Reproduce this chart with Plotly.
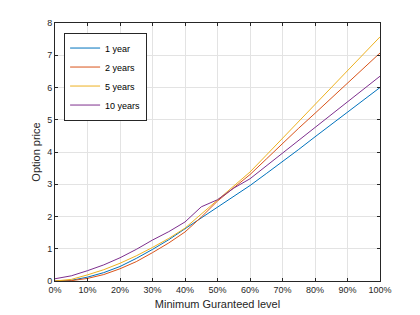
import plotly.graph_objects as go

guarantee_pct = [0, 5, 10, 15, 20, 25, 30, 35, 40, 45, 50, 55, 60, 65, 70, 75, 80, 85, 90, 95, 100]
one_year = [0.00, 0.02, 0.12, 0.26, 0.45, 0.70, 0.98, 1.28, 1.62, 1.96, 2.29, 2.62, 2.96, 3.33, 3.70, 4.08, 4.47, 4.85, 5.23, 5.62, 6.00]
two_years = [0.00, 0.01, 0.08, 0.20, 0.38, 0.60, 0.88, 1.18, 1.52, 1.98, 2.48, 2.90, 3.30, 3.78, 4.27, 4.74, 5.20, 5.67, 6.14, 6.60, 7.07]
five_years = [0.00, 0.05, 0.19, 0.35, 0.55, 0.78, 1.04, 1.32, 1.64, 2.08, 2.52, 2.95, 3.38, 3.90, 4.42, 4.95, 5.47, 6.00, 6.52, 7.05, 7.57]
ten_years = [0.07, 0.16, 0.32, 0.50, 0.72, 0.98, 1.27, 1.53, 1.83, 2.30, 2.52, 2.88, 3.17, 3.57, 3.97, 4.37, 4.76, 5.16, 5.56, 5.95, 6.35]

series_names = ["1 year", "2 years", "5 years", "10 years"]
series_values = [one_year, two_years, five_years, ten_years]
series_colors = ["#0072BD", "#D95319", "#EDB120", "#7E2F8E"]

x_ticks = [0, 10, 20, 30, 40, 50, 60, 70, 80, 90, 100]
x_tick_labels = ["0%", "10%", "20%", "30%", "40%", "50%", "60%", "70%", "80%", "90%", "100%"]
y_ticks = [0, 1, 2, 3, 4, 5, 6, 7, 8]

FONT = "Liberation Sans, Arial, Helvetica, sans-serif"
INK = "#262626"

fig = go.Figure()
for name, vals, col in zip(series_names, series_values, series_colors):
    fig.add_trace(go.Scatter(x=guarantee_pct, y=vals, mode="lines", name=name,
                             line=dict(color=col, width=1)))

axis_common = dict(
    showline=True, linecolor=INK, linewidth=1, mirror="ticks",
    ticks="inside", ticklen=3, tickcolor=INK, tickwidth=1,
    showgrid=True, gridcolor="#e3e3e3", gridwidth=1,
    zeroline=False, automargin=False,
    tickfont=dict(family=FONT, size=9, color=INK),
)

fig.update_layout(
    width=420, height=315,
    margin=dict(l=47, r=48, t=15, b=42),
    paper_bgcolor="white", plot_bgcolor="white",
    font=dict(family=FONT, color=INK),
    showlegend=True,
    legend=dict(x=0.028, y=0.963, xanchor="left", yanchor="top",
                bgcolor="white", bordercolor=INK, borderwidth=1,
                font=dict(family=FONT, size=9, color="black"),
                tracegroupgap=0),
    xaxis=dict(range=[0, 100], tickvals=x_ticks, ticktext=x_tick_labels,
               title=dict(text="Minimum Guranteed level", font=dict(family=FONT, size=11, color=INK), standoff=6),
               **axis_common),
    yaxis=dict(range=[0, 8], tickvals=y_ticks,
               title=dict(text="Option price", font=dict(family=FONT, size=11, color=INK), standoff=4),
               **axis_common),
)

fig.write_html("out.html")
